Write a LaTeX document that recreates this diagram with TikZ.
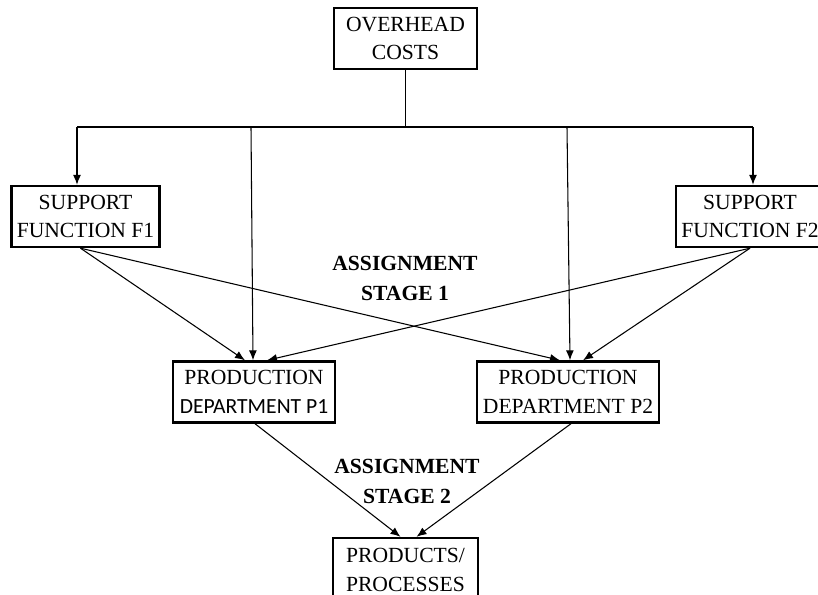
\documentclass[tikz,border=0pt]{standalone}
\usepackage{fontspec}
\setmainfont{Liberation Serif}
\newfontfamily\carlitofont{Carlito}
\usetikzlibrary{arrows.meta,calc}

\begin{document}
\begin{tikzpicture}[x=0.75pt,y=-0.75pt,
  box/.style={draw,line width=1.8pt,align=center,inner sep=0pt,minimum height=45.75pt,font=\fontsize{16.2}{21.5}\selectfont},
  tag/.style={align=center,font=\bfseries\fontsize{16.2}{22.5}\selectfont},
  wire/.style={line width=0.8pt},
  arr/.style={wire,-{Latex[length=7.5pt,width=6pt]}}]
\useasboundingbox (0,0) rectangle (818,595);
\node [box,minimum width=107pt] (cost) at (405.5,38.5) {OVERHEAD\\COSTS};
\node [box,minimum width=111pt] (f1) at (85.5,216.5) {SUPPORT\\FUNCTION F1};
\node [box,minimum width=111pt] (f2) at (750,216.5) {SUPPORT\\FUNCTION F2};
\node [box,minimum width=121.5pt] (p1) at (254,392) {PRODUCTION\\{\carlitofont DEPARTMENT P1}};
\node [box,minimum width=136.5pt] (p2) at (568,392) {PRODUCTION\\DEPARTMENT P2};
\node [box,minimum width=108.75pt,minimum height=48pt] (prod) at (405.5,570) {PRODUCTS/\\PROCESSES};
\node [tag] (stage1) at (405,278) {ASSIGNMENT\\STAGE 1};
\node [tag] (stage2) at (407,481) {ASSIGNMENT\\STAGE 2};
% distribution bus
\coordinate (bl) at (77,127);
\coordinate (br) at (753,127);
\coordinate (b1) at (251,127);
\coordinate (b2) at (567,127);
\draw [wire] (cost.south) -- (cost.south |- bl);
\draw [wire] (bl) -- (br);
\draw [arr] (bl) -- (bl |- f1.north);
\draw [arr] (br) -- (br |- f2.north);
\draw [arr] (b1) -- ($(p1.north)+(-1,0)$);
\draw [arr] (b2) -- ($(p2.north)+(2,0)$);
% stage 1
\draw [arr] ($(f1.south)+(-5,0)$) -- ($(p1.north)+(-9,0)$);
\draw [arr] ($(f1.south)+(-5,0)$) -- ($(p2.north)+(-8,0)$);
\draw [arr] (f2.south) -- ($(p1.north)+(13,0)$);
\draw [arr] (f2.south) -- ($(p2.north)+(15,0)$);
% stage 2
\draw [arr] ($(p1.south)+(1,0)$) -- ($(prod.north)+(-5,0)$);
\draw [arr] ($(p2.south)+(3,0)$) -- ($(prod.north)+(11,0)$);
\end{tikzpicture}
\end{document}
